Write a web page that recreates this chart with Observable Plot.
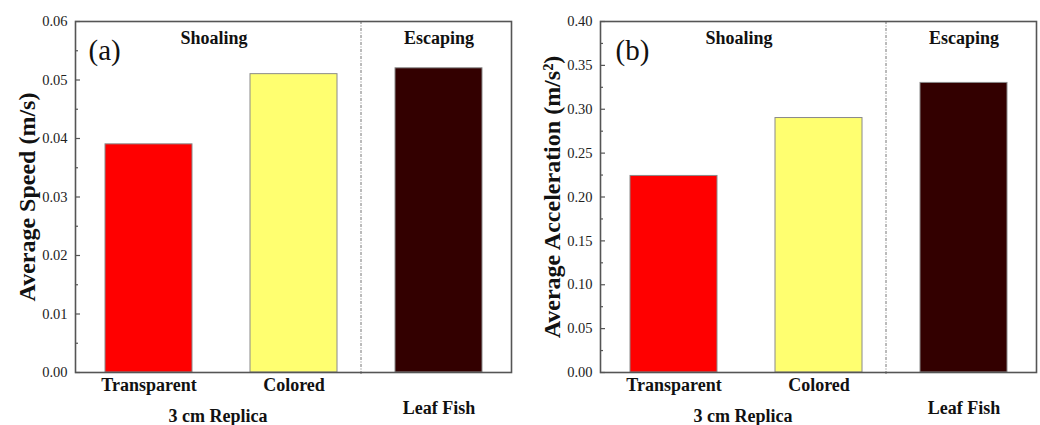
<!DOCTYPE html>
<html>
<head>
<meta charset="utf-8">
<script src="https://cdn.jsdelivr.net/npm/d3@7"></script>
<script src="https://cdn.jsdelivr.net/npm/@observablehq/plot@0.6"></script>
<style>
  html, body { margin: 0; padding: 0; background: #fff; overflow: hidden; }
  #wrap { display: flex; flex-direction: row; width: 1040px; height: 425px; }
  #wrap svg { display: block; font-family: 'Liberation Serif', 'Times New Roman', serif !important; }
  #wrap svg text { font-family: 'Liberation Serif', 'Times New Roman', serif !important; font-variant-numeric: normal; }
</style>
</head>
<body>
<div id="wrap"></div>
<script>
// ---- data ----
const categories = ["Transparent", "Colored", "Leaf Fish"];
const barColors = ["#ff0000", "#ffff70", "#330000"];
const speedValues = [0.039, 0.051, 0.052];
const accelValues = [0.224, 0.29, 0.33];
const speedTicks = [0, 0.01, 0.02, 0.03, 0.04, 0.05, 0.06];
const speedMinorTicks = [0.005, 0.015, 0.025, 0.035, 0.045, 0.055];
const accelTicks = [0, 0.05, 0.1, 0.15, 0.2, 0.25, 0.3, 0.35, 0.4];
const accelMinorTicks = [0.025, 0.075, 0.125, 0.175, 0.225, 0.275, 0.325, 0.375];
const behaviorLabels = ["Shoaling", "Escaping"];
const categoryLabels = ["Transparent", "Colored"];
const groupLabels = ["3 cm Replica", "Leaf Fish"];
const panelLabels = ["(a)", "(b)"];
const yTitles = ["Average Speed (m/s)", "Average Acceleration (m/s\u00B2)"];

const FONT = "'Liberation Serif', 'Times New Roman', serif";

function panel({values, ticks, minorTicks, domain, title, tag, marginLeft, marginRight, tagDx}) {
  const rows = categories.map((c, i) => ({cat: c, value: values[i], color: barColors[i]}));
  return Plot.plot({
    width: 520,
    height: 425,
    marginLeft, marginRight,
    marginTop: 21,
    marginBottom: 53,
    style: {fontFamily: FONT, background: "#fff", overflow: "visible"},
    x: {type: "band", domain: categories, paddingInner: 0.4, paddingOuter: 0.2, axis: null},
    y: {domain, axis: null},
    marks: [
      Plot.barY(rows, {x: "cat", y: "value", fill: "color", stroke: "#8a8a8a", strokeWidth: 1}),
      Plot.ruleX([categories[2]], {x: d => d, dx: -78, stroke: "#777", strokeWidth: 1, strokeDasharray: "3,1.5,1,1.5", insetBottom: -3}),
      Plot.frame({stroke: "#555", strokeWidth: 1.6}),
      Plot.axisY(ticks, {tickSize: -5, tickPadding: 13, tickFormat: ".2f", fontSize: 14.5, fontFamily: FONT, fill: "#222", stroke: "#555", strokeWidth: 1.2, label: null}),
      Plot.axisY(minorTicks, {tickSize: -3, text: null, stroke: "#555", strokeWidth: 1.2, label: null}),
      // y title
      Plot.text([title], {frameAnchor: "left", dx: -48, rotate: -90, text: d => d, fontSize: 24, fontFamily: FONT, fontWeight: "bold", fill: "#111", textAnchor: "middle", lineAnchor: "middle"}),
      // panel tag
      Plot.text([tag], {frameAnchor: "top-left", dx: tagDx, dy: 38, text: d => d, fontSize: 29, fontFamily: FONT, fill: "#111", textAnchor: "start", lineAnchor: "bottom"}),
      // behaviour labels
      Plot.text([behaviorLabels[0]], {x: () => categories[1], frameAnchor: "top", dx: -80, dy: 22, text: d => d, fontSize: 18, fontFamily: FONT, fontWeight: "bold", fill: "#111", lineAnchor: "bottom"}),
      Plot.text([behaviorLabels[1]], {x: () => categories[2], frameAnchor: "top", dy: 22, text: d => d, fontSize: 18, fontFamily: FONT, fontWeight: "bold", fill: "#111", lineAnchor: "bottom"}),
      // category labels
      Plot.text(categoryLabels, {x: d => d, frameAnchor: "bottom", dy: 18, text: d => d, fontSize: 18, fontFamily: FONT, fontWeight: "bold", fill: "#111", lineAnchor: "bottom"}),
      // group labels
      Plot.text([groupLabels[0]], {x: () => categories[0], frameAnchor: "bottom", dx: 69, dy: 49, text: d => d, fontSize: 18, fontFamily: FONT, fontWeight: "bold", fill: "#111", lineAnchor: "bottom"}),
      Plot.text([groupLabels[1]], {x: () => categories[2], frameAnchor: "bottom", dy: 41, text: d => d, fontSize: 18, fontFamily: FONT, fontWeight: "bold", fill: "#111", lineAnchor: "bottom"})
    ]
  });
}

const wrap = document.getElementById("wrap");
wrap.append(panel({values: speedValues, ticks: speedTicks, minorTicks: speedMinorTicks, domain: [0, 0.06], title: yTitles[0], tag: panelLabels[0], marginLeft: 75, marginRight: 9, tagDx: 13}));
wrap.append(panel({values: accelValues, ticks: accelTicks, minorTicks: accelMinorTicks, domain: [0, 0.4], title: yTitles[1], tag: panelLabels[1], marginLeft: 80, marginRight: 4, tagDx: 15}));
</script>
</body>
</html>
